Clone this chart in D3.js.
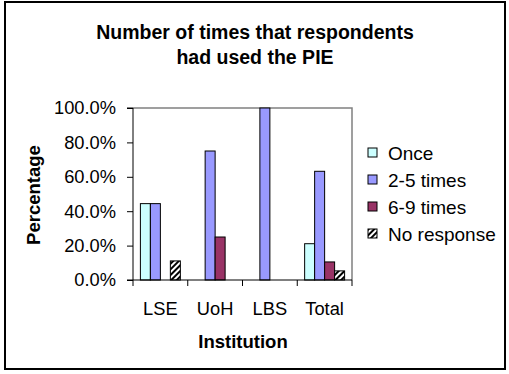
<!DOCTYPE html>
<html>
<head>
<meta charset="utf-8">
<script src="https://cdn.jsdelivr.net/npm/d3@7"></script>
<style>
  body { margin: 0; background: #fff; }
  text { font-family: "Liberation Sans", Arial, sans-serif; fill: #000; }
</style>
</head>
<body>
<div class="plot"></div>
<script>
// chart data
var institutions = ["LSE", "UoH", "LBS", "Total"];
var seriesNames = ["Once", "2-5 times", "6-9 times", "No response"];
var once = [44.4, 0, 0, 21.1];
var twoToFive = [44.4, 75.0, 100.0, 63.2];
var sixToNine = [0, 25.0, 0, 10.5];
var noResponse = [11.1, 0, 0, 5.3];
var yTicks = [0, 20, 40, 60, 80, 100];

var seriesValues = [once, twoToFive, sixToNine, noResponse];
var colors = ["#CCFFFF", "#9999FF", "#993366", "url(#hatch)"];

var svgWidth = 509;
var svgHeight = 374;

var plot = { left: 133, right: 352, top: 108, bottom: 280 };

var svg = d3.select(".plot")
    .append("svg")
    .attr("width", svgWidth)
    .attr("height", svgHeight);

// hatch pattern for "No response"
var defs = svg.append("defs");
var pat = defs.append("pattern")
    .attr("id", "hatch")
    .attr("patternUnits", "userSpaceOnUse")
    .attr("width", 4)
    .attr("height", 4)
    .attr("patternTransform", "rotate(45)");
pat.append("rect").attr("width", 4).attr("height", 4).attr("fill", "#fff");
pat.append("rect").attr("width", 2).attr("height", 4).attr("fill", "#000");

// outer frame
svg.append("rect")
    .attr("x", 5).attr("y", 2)
    .attr("width", 500).attr("height", 367)
    .attr("fill", "#fff")
    .attr("stroke", "#000")
    .attr("stroke-width", 2);

// title
var title = svg.append("text")
    .attr("text-anchor", "middle")
    .attr("font-size", "19.5px")
    .attr("font-weight", "bold");
title.append("tspan").attr("x", 255).attr("y", 39).text("Number of times that respondents");
title.append("tspan").attr("x", 255).attr("y", 64).text("had used the PIE");

// scales
var x0 = d3.scaleBand()
    .domain(institutions)
    .range([plot.left, plot.right])
    .paddingInner(0)
    .paddingOuter(0);

var x1 = d3.scaleBand()
    .domain(seriesNames)
    .range([0, x0.bandwidth()])
    .paddingInner(0)
    .paddingOuter(0.74);

var y = d3.scaleLinear()
    .domain([0, 100])
    .range([plot.bottom, plot.top]);

// plot area border (gray top/right)
svg.append("path")
    .attr("d", `M${plot.left},${plot.top}H${plot.right}V${plot.bottom}`)
    .attr("fill", "none")
    .attr("stroke", "#808080")
    .attr("stroke-width", 1.5);

// bars
institutions.forEach(function (inst, i) {
    var g = svg.append("g").attr("transform", `translate(${x0(inst)},0)`);
    seriesNames.forEach(function (s, j) {
        var v = seriesValues[j][i];
        if (v <= 0) return;
        g.append("rect")
            .attr("x", x1(s))
            .attr("y", y(v))
            .attr("width", x1.bandwidth())
            .attr("height", y(0) - y(v))
            .attr("fill", colors[j])
            .attr("stroke", "#000")
            .attr("stroke-width", 1);
    });
});

// y axis
var yAxis = d3.axisLeft(y)
    .tickValues(yTicks)
    .tickSize(6)
    .tickPadding(11)
    .tickFormat(d => d.toFixed(1) + "%");

var yAxisG = svg.append("g")
    .attr("transform", `translate(${plot.left},0)`)
    .call(yAxis);
yAxisG.select(".domain").attr("stroke", "#000").attr("d", `M-6,${plot.top}H0V${plot.bottom}H-6`);
yAxisG.selectAll("text")
    .attr("font-size", "18.3px")
    .attr("font-family", "Liberation Sans, Arial, sans-serif");

// x axis
var xAxis = d3.axisBottom(x0).tickSize(0).tickPadding(22);
var xAxisG = svg.append("g")
    .attr("transform", `translate(0,${plot.bottom})`)
    .call(xAxis);
xAxisG.select(".domain").attr("stroke", "#000").attr("d", `M${plot.left},0H${plot.right}`);
xAxisG.selectAll("text")
    .attr("font-size", "18.3px")
    .attr("font-family", "Liberation Sans, Arial, sans-serif");

// category separator ticks
var sepTicks = institutions.map(d => x0(d)).concat([x0.range()[1]]);
xAxisG.selectAll(".sep")
    .data(sepTicks)
    .enter()
    .append("line")
    .attr("x1", d => d).attr("x2", d => d)
    .attr("y1", 0).attr("y2", 6)
    .attr("stroke", "#000");

// axis titles
svg.append("text")
    .attr("x", 243).attr("y", 348)
    .attr("text-anchor", "middle")
    .attr("font-size", "18.5px")
    .attr("font-weight", "bold")
    .text("Institution");

svg.append("text")
    .attr("transform", "translate(40,195) rotate(-90)")
    .attr("text-anchor", "middle")
    .attr("font-size", "18.5px")
    .attr("font-weight", "bold")
    .text("Percentage");

// legend
var legend = svg.append("g").attr("transform", "translate(368,153)");
seriesNames.forEach(function (s, j) {
    var row = legend.append("g").attr("transform", `translate(0,${j * 27})`);
    row.append("rect")
        .attr("x", 0).attr("y", -5)
        .attr("width", 9).attr("height", 9)
        .attr("fill", colors[j])
        .attr("stroke", "#000");
    row.append("text")
        .attr("x", 20).attr("y", 6.5)
        .attr("font-size", "19px")
        .text(s);
});
</script>
</body>
</html>
